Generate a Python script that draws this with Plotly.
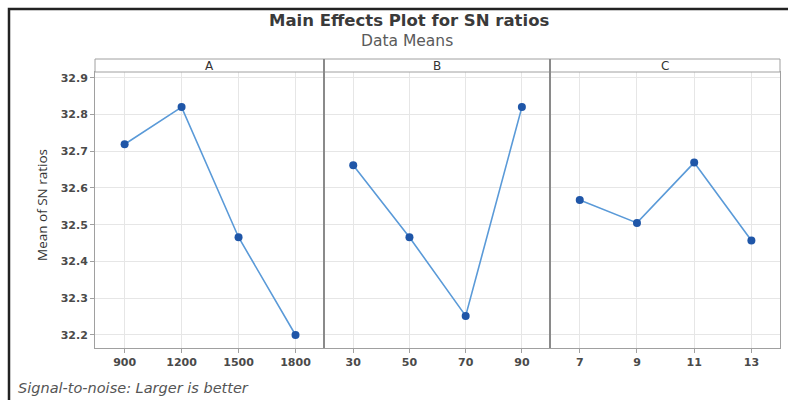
import plotly.graph_objects as go

# ---- data ----
factors = ["A", "B", "C"]
levels_A = ["900", "1200", "1500", "1800"]
levels_B = ["30", "50", "70", "90"]
levels_C = ["7", "9", "11", "13"]
sn_A = [32.719, 32.820, 32.466, 32.200]
sn_B = [32.662, 32.466, 32.252, 32.820]
sn_C = [32.567, 32.505, 32.669, 32.457]
overall_mean = 32.551
y_ticks = [32.2, 32.3, 32.4, 32.5, 32.6, 32.7, 32.8, 32.9]

W, H = 788, 400
def px(x): return x / W
def py(y): return 1 - y / H

fig = go.Figure()
doms = [(95, 324), (324, 550), (550, 780)]
plot_top, plot_bot = 72, 348
strip_top = 59

line_col = "#5A9AD8"
mark_col = "#1F56A8"
font = "DejaVu Sans"
tick_font = dict(family=font, size=11, color="#4A4A4A", weight="bold")

for i, (lv, vals) in enumerate(zip([levels_A, levels_B, levels_C], [sn_A, sn_B, sn_C])):
    xa = "x" if i == 0 else f"x{i+1}"
    ya = "y" if i == 0 else f"y{i+1}"
    fig.add_trace(go.Scatter(x=[-0.6, 3.6], y=[overall_mean, overall_mean], mode="lines",
                             xaxis=xa, yaxis=ya, line=dict(color="#AAAAAA", width=1.2, dash="dash"),
                             showlegend=False, hoverinfo="skip"))
    fig.add_trace(go.Scatter(x=lv, y=vals, mode="lines+markers", xaxis=xa, yaxis=ya,
                             line=dict(color=line_col, width=1.6),
                             marker=dict(color=mark_col, size=8, symbol="circle"),
                             showlegend=False))
    axx = dict(domain=[px(doms[i][0]), px(doms[i][1])], type="category",
               categoryorder="array", categoryarray=lv, range=[-0.52, 3.5],
               showgrid=True, gridcolor="#E6E6E6", gridwidth=1,
               showline=True, linecolor="#A0A0A0", linewidth=1, mirror=True,
               ticks="outside", ticklen=4, tickcolor="#A0A0A0",
               tickfont=tick_font, anchor=ya, zeroline=False)
    axy = dict(domain=[py(plot_bot), py(plot_top)], range=[32.1646, 32.9155],
               tickvals=y_ticks, ticktext=[f"{v:.1f}" for v in y_ticks],
               showgrid=True, gridcolor="#E6E6E6", gridwidth=1,
               showline=True, linecolor="#A0A0A0", linewidth=1, mirror=True,
               anchor=xa, zeroline=False, tickfont=tick_font)
    if i == 0:
        axy.update(ticks="outside", ticklen=4, tickcolor="#A0A0A0", showticklabels=True)
    else:
        axy.update(showticklabels=False, ticks="", matches="y")
    fig.update_layout(**{("xaxis" if i == 0 else f"xaxis{i+1}"): axx,
                         ("yaxis" if i == 0 else f"yaxis{i+1}"): axy})
    fig.add_shape(type="rect", xref="paper", yref="paper",
                  x0=px(doms[i][0]), x1=px(doms[i][1]), y0=py(plot_top), y1=py(strip_top),
                  line=dict(color="#A0A0A0", width=1), fillcolor="white", layer="above")
    fig.add_annotation(x=px((doms[i][0] + doms[i][1]) / 2), y=py((plot_top + strip_top) / 2),
                       xref="paper", yref="paper", xanchor="center", yanchor="middle",
                       text=factors[i], showarrow=False,
                       font=dict(family=font, size=12, color="#333333"))

for xd in [324, 550]:
    fig.add_shape(type="line", xref="paper", yref="paper", x0=px(xd), x1=px(xd),
                  y0=py(plot_bot), y1=py(strip_top), line=dict(color="#8A8A8A", width=2), layer="above")

fig.add_shape(type="rect", xref="paper", yref="paper", x0=px(9), x1=px(810), y0=py(420), y1=py(9),
              line=dict(color="#222222", width=2.5), layer="above")

fig.add_annotation(x=px(409), y=py(20), xref="paper", yref="paper", xanchor="center", yanchor="middle",
                   text="Main Effects Plot for SN ratios", showarrow=False,
                   font=dict(family=font, size=16.5, color="#3A3A3A", weight="bold"))
fig.add_annotation(x=px(407), y=py(41), xref="paper", yref="paper", xanchor="center", yanchor="middle",
                   text="Data Means", showarrow=False, font=dict(family=font, size=15.5, color="#5A5A5A"))
fig.add_annotation(x=px(42), y=py(205), xref="paper", yref="paper", xanchor="center", yanchor="middle",
                   text="Mean of SN ratios", textangle=-90, showarrow=False,
                   font=dict(family="Open Sans", size=13.5, color="#333333"))
fig.add_annotation(x=px(16), y=py(388), xref="paper", yref="paper", xanchor="left", yanchor="middle",
                   text="<i>Signal-to-noise: Larger is better</i>",
                   showarrow=False, font=dict(family=font, size=14.5, color="#555555"))

fig.update_layout(width=W, height=H, margin=dict(l=0, r=0, t=0, b=0),
                  paper_bgcolor="white", plot_bgcolor="white", showlegend=False)

fig.write_html("out.html")
